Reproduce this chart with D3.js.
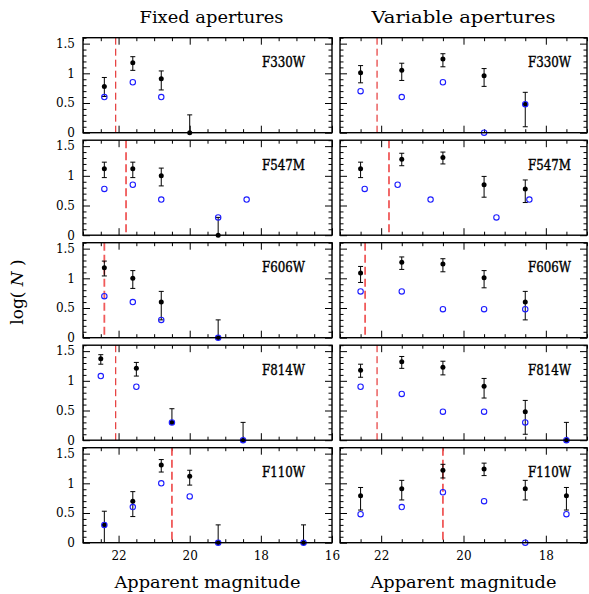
<!DOCTYPE html>
<html>
<head>
<meta charset="utf-8">
<script src="https://cdn.jsdelivr.net/npm/d3@7"></script>
<style>
  body { margin: 0; background: #fff; }
  svg text { font-family: "DejaVu Serif", serif; fill: #000; }
</style>
</head>
<body>
<svg id="drawing_region"></svg>
<script>
// filters, one row each
const filters = ["F330W", "F547M", "F606W", "F814W", "F110W"];

// completeness limits (dashed lines), magnitude
const fixedLimit = [22.08, 21.79, 22.4, 22.08, 20.5];
const variableLimit = [22.1, 21.81, 22.39, 22.1, 20.5];

// black points: [mag, logN, lower, upper]
const fixedBlack = [
  [[22.4, 0.78, 0.61, 0.93], [21.6, 1.18, 1.05, 1.28], [20.8, 0.91, 0.72, 1.04], [20.0, 0, 0, 0.30]],
  [[22.4, 1.12, 0.97, 1.23], [21.6, 1.12, 0.97, 1.23], [20.8, 1.00, 0.83, 1.13], [19.2, 0, 0, 0.30]],
  [[22.4, 1.18, 1.04, 1.29], [21.6, 1.00, 0.83, 1.13], [20.8, 0.60, 0.30, 0.78], [19.2, 0, 0, 0.30]],
  [[22.5, 1.37, 1.28, 1.44], [21.5, 1.21, 1.08, 1.31], [20.5, 0.30, 0.30, 0.53], [18.5, 0, 0, 0.30]],
  [[22.4, 0.30, 0, 0.53], [21.6, 0.70, 0.44, 0.86], [20.8, 1.31, 1.19, 1.40], [20.0, 1.12, 0.97, 1.22],
   [19.2, 0, 0, 0.30], [16.8, 0, 0, 0.30]]
];
const variableBlack = [
  [[22.5, 1.01, 0.84, 1.13], [21.5, 1.05, 0.88, 1.17], [20.5, 1.24, 1.11, 1.33], [19.5, 0.96, 0.78, 1.08],
   [18.5, 0.48, 0.10, 0.68]],
  [[22.5, 1.12, 0.97, 1.23], [21.5, 1.28, 1.17, 1.38], [20.5, 1.31, 1.20, 1.40], [19.5, 0.85, 0.64, 0.99],
   [18.5, 0.78, 0.55, 0.93]],
  [[22.5, 1.09, 0.93, 1.20], [21.5, 1.27, 1.15, 1.36], [20.5, 1.24, 1.11, 1.33], [19.5, 1.01, 0.84, 1.13],
   [18.5, 0.60, 0.30, 0.78]],
  [[22.5, 1.18, 1.06, 1.28], [21.5, 1.32, 1.21, 1.41], [20.5, 1.23, 1.10, 1.33], [19.5, 0.91, 0.71, 1.04],
   [18.5, 0.48, 0.10, 0.67], [17.5, 0, 0, 0.30]],
  [[22.5, 0.79, 0.55, 0.93], [21.5, 0.91, 0.72, 1.05], [20.5, 1.22, 1.09, 1.32], [19.5, 1.24, 1.13, 1.34],
   [18.5, 0.91, 0.72, 1.05], [17.5, 0.79, 0.55, 0.93]]
];

// blue open circles: [mag, logN]
const fixedBlue = [
  [[22.4, 0.60], [21.6, 0.85], [20.8, 0.60]],
  [[22.4, 0.78], [21.6, 0.85], [20.8, 0.60], [19.2, 0.30], [18.4, 0.60]],
  [[22.4, 0.70], [21.6, 0.60], [20.8, 0.30], [19.2, 0]],
  [[22.5, 1.08], [21.5, 0.90], [20.5, 0.30], [18.5, 0]],
  [[22.4, 0.30], [21.6, 0.60], [20.8, 1.00], [20.0, 0.78], [19.2, 0], [16.8, 0]]
];
const variableBlue = [
  [[22.5, 0.70], [21.5, 0.60], [20.5, 0.85], [19.5, 0], [18.5, 0.48]],
  [[22.4, 0.78], [21.6, 0.85], [20.8, 0.60], [19.2, 0.30], [18.4, 0.60]],
  [[22.5, 0.78], [21.5, 0.78], [20.5, 0.48], [19.5, 0.48], [18.5, 0.48]],
  [[22.5, 0.90], [21.5, 0.78], [20.5, 0.48], [19.5, 0.48], [18.5, 0.30], [17.5, 0]],
  [[22.5, 0.48], [21.5, 0.60], [20.5, 0.85], [19.5, 0.70], [18.5, 0], [17.5, 0.48]]
];

// axis ticks
const xMajorTicks = [22, 20, 18, 16];
const yMajorTicks = [0, 0.5, 1, 1.5];
const yTickLabels = ["0", "0.5", "1", "1.5"];

const width = 589, height = 594;
const svg = d3.select("#drawing_region").attr("width", width).attr("height", height);

const columns = [
  { title: "Fixed apertures", x0: 83, x1: 332, domain: [23, 16], black: fixedBlack, blue: fixedBlue,
    limit: fixedLimit, labelX: 262 },
  { title: "Variable apertures", x0: 340, x1: 587, domain: [23, 17], black: variableBlack, blue: variableBlue,
    limit: variableLimit, labelX: 528 }
];

const firstBottom = 132.7, rowStep = 102.5, panelH = 95;

columns.forEach((col, ci) => {
  const x = d3.scaleLinear().domain(col.domain).range([col.x0, col.x1]);
  const xMinor = d3.range(col.domain[1], col.domain[0] + 0.01, 0.5).filter(v => v % 2 !== 0);
  const xMajor = xMajorTicks.filter(v => v <= col.domain[0] && v >= col.domain[1]);

  filters.forEach((f, ri) => {
    const bottom = firstBottom + ri * rowStep;
    const y = d3.scaleLinear().domain([0, 1.6]).range([bottom, bottom - panelH]);
    const g = svg.append("g");
    const yMinor = d3.range(0, 1.61, 0.1).filter(v => Math.abs(v * 2 - Math.round(v * 2)) > 1e-6);

    // ticks on all four sides, pointing inward
    const addAxis = (axis, tr, labels) => {
      const a = g.append("g").attr("transform", tr).call(axis);
      a.select(".domain").remove();
      a.selectAll("line").attr("stroke", "#000").attr("stroke-width", 1);
      a.selectAll("text").style("font-family", '"DejaVu Serif", serif').style("font-size", "12px")
        .attr("fill", "#000");
      if (!labels) a.selectAll("text").remove();
      return a;
    };
    addAxis(d3.axisBottom(x).tickValues(xMajor).tickSize(-7).tickPadding(9).tickFormat(d3.format("d")),
      `translate(0,${bottom})`, ri === filters.length - 1);
    addAxis(d3.axisBottom(x).tickValues(xMinor).tickSize(-3.5), `translate(0,${bottom})`, false);
    addAxis(d3.axisTop(x).tickValues(xMajor).tickSize(-7), `translate(0,${bottom - panelH})`, false);
    addAxis(d3.axisTop(x).tickValues(xMinor).tickSize(-3.5), `translate(0,${bottom - panelH})`, false);
    addAxis(d3.axisLeft(y).tickValues(yMajorTicks).tickSize(-7).tickPadding(8)
      .tickFormat((d, i) => yTickLabels[i]), `translate(${col.x0},0)`, ci === 0);
    addAxis(d3.axisLeft(y).tickValues(yMinor).tickSize(-3.5), `translate(${col.x0},0)`, false);
    addAxis(d3.axisRight(y).tickValues(yMajorTicks).tickSize(-7), `translate(${col.x1},0)`, false);
    addAxis(d3.axisRight(y).tickValues(yMinor).tickSize(-3.5), `translate(${col.x1},0)`, false);

    // completeness limit
    const thin = (f === "F330W" || f === "F814W");
    g.append("line")
      .attr("x1", x(col.limit[ri])).attr("x2", x(col.limit[ri]))
      .attr("y1", y(1.6)).attr("y2", y(0))
      .attr("stroke", thin ? "#e01010" : "#f05a5a")
      .attr("stroke-width", thin ? 1 : 1.8)
      .attr("stroke-dasharray", thin ? "7,4" : "8,4");

    // error bars
    const eb = g.selectAll(".eb").data(col.black[ri]).enter().append("g");
    eb.append("line")
      .attr("x1", d => x(d[0])).attr("x2", d => x(d[0]))
      .attr("y1", d => y(d[2])).attr("y2", d => y(d[3]))
      .attr("stroke", "#000").attr("stroke-width", 1);
    eb.append("line")
      .attr("x1", d => x(d[0]) - 2.5).attr("x2", d => x(d[0]) + 2.5)
      .attr("y1", d => y(d[3])).attr("y2", d => y(d[3]))
      .attr("stroke", "#000").attr("stroke-width", 1);
    eb.filter(d => d[2] > 0 && d[2] < d[1]).append("line")
      .attr("x1", d => x(d[0]) - 2.5).attr("x2", d => x(d[0]) + 2.5)
      .attr("y1", d => y(d[2])).attr("y2", d => y(d[2]))
      .attr("stroke", "#000").attr("stroke-width", 1);
    g.selectAll(".dot").data(col.black[ri]).enter().append("circle")
      .attr("cx", d => x(d[0])).attr("cy", d => y(d[1])).attr("r", 2.5)
      .attr("fill", "#000");

    g.selectAll(".open").data(col.blue[ri]).enter().append("circle")
      .attr("cx", d => x(d[0])).attr("cy", d => y(d[1])).attr("r", 2.7)
      .attr("fill", "none").attr("stroke", "#1c1cff").attr("stroke-width", 1.1);

    // frame
    g.append("rect")
      .attr("x", col.x0).attr("y", bottom - panelH)
      .attr("width", col.x1 - col.x0).attr("height", panelH)
      .attr("fill", "none").attr("stroke", "#000").attr("stroke-width", 1.4);

    g.append("text")
      .attr("x", col.labelX).attr("y", bottom - panelH + 29.5)
      .attr("textLength", 43).attr("lengthAdjust", "spacingAndGlyphs")
      .style("font-size", "14px")
      .attr("stroke", "#000").attr("stroke-width", 0.4)
      .text(f);
  });

  const cx = (col.x0 + col.x1) / 2;
  svg.append("text")
    .attr("x", cx + (ci === 0 ? 4 : 0)).attr("y", 23)
    .attr("text-anchor", "middle")
    .attr("textLength", ci === 0 ? 144 : 184).attr("lengthAdjust", "spacingAndGlyphs")
    .style("font-size", "17px")
    .text(col.title);
  svg.append("text")
    .attr("x", cx).attr("y", 588)
    .attr("text-anchor", "middle")
    .attr("textLength", 186).attr("lengthAdjust", "spacingAndGlyphs")
    .style("font-size", "17px")
    .text("Apparent magnitude");
});

// y label
const yl = svg.append("text")
  .attr("transform", "translate(23,292) rotate(-90)")
  .attr("text-anchor", "middle")
  .style("font-size", "17px");
yl.append("tspan").text("log( ");
yl.append("tspan").style("font-style", "italic").text("N");
yl.append("tspan").text(" )");
</script>
</body>
</html>
